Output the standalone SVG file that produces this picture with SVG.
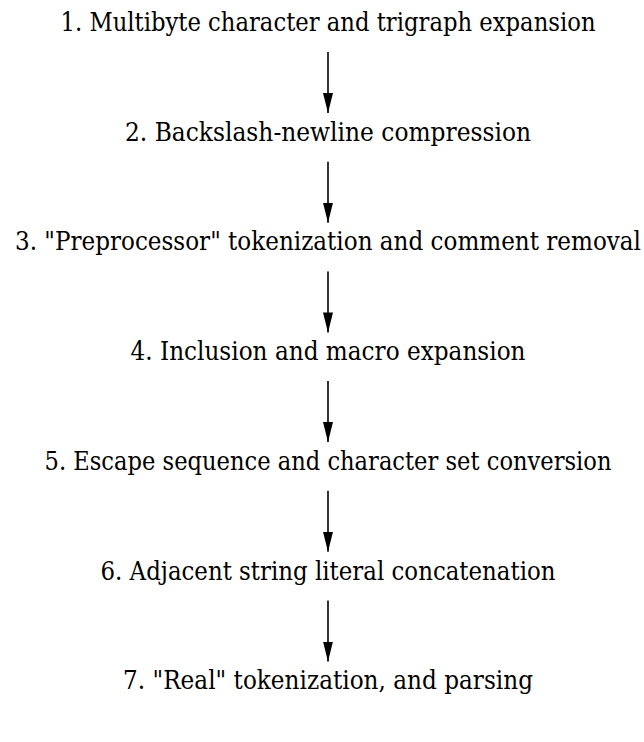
<svg xmlns="http://www.w3.org/2000/svg" width="644" height="742" viewBox="0 0 644 742">
<style>
.t{font-family:'DejaVu Serif','Liberation Serif',serif;font-size:26.5px;fill:#000;text-anchor:middle}
.c line{stroke:#000;stroke-width:1.6}
</style>
<defs>
<marker id="ah" markerUnits="userSpaceOnUse" markerWidth="20" markerHeight="10" refX="20" refY="5" orient="auto" viewBox="0 0 20 10">
<path d="M0,0 L20,5 L0,10 Z" fill="#000"/>
</marker>
</defs>
<rect width="644" height="742" fill="#fff"/>
<g id="n1" transform="translate(328,31) scale(0.8,1)"><text class="t" x="0" y="0" textLength="668.75" lengthAdjust="spacingAndGlyphs">1. Multibyte character and trigraph expansion</text></g>
<g id="n2" transform="translate(328,140.7) scale(0.8,1)"><text class="t" x="0" y="0" textLength="507.5" lengthAdjust="spacingAndGlyphs">2. Backslash-newline compression</text></g>
<g id="n3" transform="translate(328,250.4) scale(0.8,1)"><text class="t" x="0" y="0" textLength="782.5" lengthAdjust="spacingAndGlyphs">3. "Preprocessor" tokenization and comment removal</text></g>
<g id="n4" transform="translate(328,360) scale(0.8,1)"><text class="t" x="0" y="0" textLength="493.75" lengthAdjust="spacingAndGlyphs">4. Inclusion and macro expansion</text></g>
<g id="n5" transform="translate(328,469.8) scale(0.8,1)"><text class="t" x="0" y="0" textLength="708.75" lengthAdjust="spacingAndGlyphs">5. Escape sequence and character set conversion</text></g>
<g id="n6" transform="translate(328,579.5) scale(0.8,1)"><text class="t" x="0" y="0" textLength="568.75" lengthAdjust="spacingAndGlyphs">6. Adjacent string literal concatenation</text></g>
<g id="n7" transform="translate(328,689.2) scale(0.8,1)"><text class="t" x="0" y="0" textLength="512.5" lengthAdjust="spacingAndGlyphs">7. "Real" tokenization, and parsing</text></g>
<g class="c" id="connectors">
<line x1="328" y1="52" x2="328" y2="113" marker-end="url(#ah)"/>
<line x1="328" y1="161.7" x2="328" y2="222.7" marker-end="url(#ah)"/>
<line x1="328" y1="271.4" x2="328" y2="332.4" marker-end="url(#ah)"/>
<line x1="328" y1="381" x2="328" y2="442" marker-end="url(#ah)"/>
<line x1="328" y1="490.8" x2="328" y2="551.8" marker-end="url(#ah)"/>
<line x1="328" y1="600.5" x2="328" y2="661.5" marker-end="url(#ah)"/>
</g>
</svg>
